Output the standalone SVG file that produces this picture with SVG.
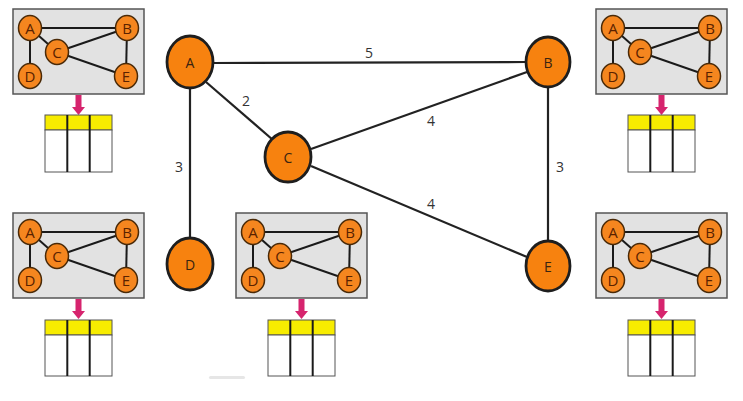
<svg xmlns="http://www.w3.org/2000/svg" width="743" height="401" viewBox="0 0 743 401">
<style>
.bg{fill:#ffffff}
.edge{stroke:#222;stroke-width:2.2;fill:none}
.node{fill:#f7820f;stroke:#1e1e1e;stroke-width:2.8}
.nl{font-family:"Open Sans","Noto Sans",sans-serif;font-size:14px;fill:#3a2410;text-anchor:middle;dominant-baseline:central}
.wl{font-family:"Open Sans","Noto Sans",sans-serif;font-size:14px;fill:#333;text-anchor:middle;dominant-baseline:central}
.tb{fill:#e2e2e2;stroke:#555;stroke-width:1.5}
.te{stroke:#1a1a1a;stroke-width:2;fill:none}
.tn{fill:#f5861f;stroke:#4a2a08;stroke-width:1.5}
.tl{font-family:"Open Sans","Noto Sans",sans-serif;font-size:15px;fill:#5a2200;text-anchor:middle;dominant-baseline:central}
.arr{fill:#d6246e}
.hdr{fill:#f7ec00;stroke:#555;stroke-width:1}
.cell{fill:#fff;stroke:#555;stroke-width:1}
.col{stroke:#1a1a1a;stroke-width:2}
</style>
<rect class="bg" x="0" y="0" width="743" height="401"/>

<g id="connectors">
<line class="edge" x1="213" y1="63" x2="526" y2="62"/>
<line class="edge" x1="206" y1="82" x2="273" y2="140"/>
<line class="edge" x1="190" y1="89" x2="190" y2="238"/>
<line class="edge" x1="311" y1="149" x2="527" y2="72"/>
<line class="edge" x1="311" y1="166" x2="527" y2="257"/>
<line class="edge" x1="548" y1="88" x2="548" y2="240"/>
</g>
<g id="weights">
<text class="wl" x="369" y="52">5</text>
<text class="wl" x="246" y="100">2</text>
<text class="wl" x="431" y="120">4</text>
<text class="wl" x="179" y="166">3</text>
<text class="wl" x="560" y="166">3</text>
<text class="wl" x="431" y="203">4</text>
</g>
<g id="A"><ellipse class="node" cx="190" cy="62" rx="23" ry="26"/><text class="nl" x="190" y="62">A</text></g>
<g id="B"><ellipse class="node" cx="548" cy="62" rx="22" ry="25"/><text class="nl" x="548" y="62">B</text></g>
<g id="C"><ellipse class="node" cx="288" cy="157" rx="23" ry="25"/><text class="nl" x="288" y="157">C</text></g>
<g id="D"><ellipse class="node" cx="190" cy="264" rx="23" ry="26"/><text class="nl" x="190" y="264">D</text></g>
<g id="E"><ellipse class="node" cx="548" cy="266" rx="22" ry="25"/><text class="nl" x="548" y="266">E</text></g>

<g id="thumb-tl" transform="translate(13,9)">
<rect class="tb" x="0" y="0" width="131" height="85"/>
<line class="te" x1="17" y1="19" x2="114" y2="19"/><line class="te" x1="17" y1="19" x2="44" y2="43"/><line class="te" x1="17" y1="19" x2="17" y2="67"/><line class="te" x1="44" y1="43" x2="114" y2="19"/><line class="te" x1="44" y1="43" x2="113" y2="67"/><line class="te" x1="114" y1="19" x2="113" y2="67"/>
<ellipse class="tn" cx="17" cy="19" rx="11.5" ry="12.5"/><text class="tl" x="17" y="19">A</text>
<ellipse class="tn" cx="114" cy="19" rx="11.5" ry="12.5"/><text class="tl" x="114" y="19">B</text>
<ellipse class="tn" cx="44" cy="43" rx="11.5" ry="12.5"/><text class="tl" x="44" y="43">C</text>
<ellipse class="tn" cx="17" cy="67" rx="11.5" ry="12.5"/><text class="tl" x="17" y="67">D</text>
<ellipse class="tn" cx="113" cy="67" rx="11.5" ry="12.5"/><text class="tl" x="113" y="67">E</text>
<polygon class="arr" points="62.5,86 68.5,86 68.5,98 72,98 65.5,106 59,98 62.5,98"/>
<rect class="hdr" x="32" y="106" width="67" height="15"/><rect class="cell" x="32" y="121" width="67" height="42"/>
<line class="col" x1="54.3" y1="106" x2="54.3" y2="163"/><line class="col" x1="76.7" y1="106" x2="76.7" y2="163"/>
</g>

<g id="thumb-tr" transform="translate(596,9)">
<rect class="tb" x="0" y="0" width="131" height="85"/>
<line class="te" x1="17" y1="19" x2="114" y2="19"/><line class="te" x1="17" y1="19" x2="44" y2="43"/><line class="te" x1="17" y1="19" x2="17" y2="67"/><line class="te" x1="44" y1="43" x2="114" y2="19"/><line class="te" x1="44" y1="43" x2="113" y2="67"/><line class="te" x1="114" y1="19" x2="113" y2="67"/>
<ellipse class="tn" cx="17" cy="19" rx="11.5" ry="12.5"/><text class="tl" x="17" y="19">A</text>
<ellipse class="tn" cx="114" cy="19" rx="11.5" ry="12.5"/><text class="tl" x="114" y="19">B</text>
<ellipse class="tn" cx="44" cy="43" rx="11.5" ry="12.5"/><text class="tl" x="44" y="43">C</text>
<ellipse class="tn" cx="17" cy="67" rx="11.5" ry="12.5"/><text class="tl" x="17" y="67">D</text>
<ellipse class="tn" cx="113" cy="67" rx="11.5" ry="12.5"/><text class="tl" x="113" y="67">E</text>
<polygon class="arr" points="62.5,86 68.5,86 68.5,98 72,98 65.5,106 59,98 62.5,98"/>
<rect class="hdr" x="32" y="106" width="67" height="15"/><rect class="cell" x="32" y="121" width="67" height="42"/>
<line class="col" x1="54.3" y1="106" x2="54.3" y2="163"/><line class="col" x1="76.7" y1="106" x2="76.7" y2="163"/>
</g>

<g id="thumb-bl" transform="translate(13,213)">
<rect class="tb" x="0" y="0" width="131" height="85"/>
<line class="te" x1="17" y1="19" x2="114" y2="19"/><line class="te" x1="17" y1="19" x2="44" y2="43"/><line class="te" x1="17" y1="19" x2="17" y2="67"/><line class="te" x1="44" y1="43" x2="114" y2="19"/><line class="te" x1="44" y1="43" x2="113" y2="67"/><line class="te" x1="114" y1="19" x2="113" y2="67"/>
<ellipse class="tn" cx="17" cy="19" rx="11.5" ry="12.5"/><text class="tl" x="17" y="19">A</text>
<ellipse class="tn" cx="114" cy="19" rx="11.5" ry="12.5"/><text class="tl" x="114" y="19">B</text>
<ellipse class="tn" cx="44" cy="43" rx="11.5" ry="12.5"/><text class="tl" x="44" y="43">C</text>
<ellipse class="tn" cx="17" cy="67" rx="11.5" ry="12.5"/><text class="tl" x="17" y="67">D</text>
<ellipse class="tn" cx="113" cy="67" rx="11.5" ry="12.5"/><text class="tl" x="113" y="67">E</text>
<polygon class="arr" points="62.5,86 68.5,86 68.5,98 72,98 65.5,106 59,98 62.5,98"/>
<rect class="hdr" x="32" y="107" width="67" height="15"/><rect class="cell" x="32" y="122" width="67" height="41"/>
<line class="col" x1="54.3" y1="107" x2="54.3" y2="163"/><line class="col" x1="76.7" y1="107" x2="76.7" y2="163"/>
</g>

<g id="thumb-bm" transform="translate(236,213)">
<rect class="tb" x="0" y="0" width="131" height="85"/>
<line class="te" x1="17" y1="19" x2="114" y2="19"/><line class="te" x1="17" y1="19" x2="44" y2="43"/><line class="te" x1="17" y1="19" x2="17" y2="67"/><line class="te" x1="44" y1="43" x2="114" y2="19"/><line class="te" x1="44" y1="43" x2="113" y2="67"/><line class="te" x1="114" y1="19" x2="113" y2="67"/>
<ellipse class="tn" cx="17" cy="19" rx="11.5" ry="12.5"/><text class="tl" x="17" y="19">A</text>
<ellipse class="tn" cx="114" cy="19" rx="11.5" ry="12.5"/><text class="tl" x="114" y="19">B</text>
<ellipse class="tn" cx="44" cy="43" rx="11.5" ry="12.5"/><text class="tl" x="44" y="43">C</text>
<ellipse class="tn" cx="17" cy="67" rx="11.5" ry="12.5"/><text class="tl" x="17" y="67">D</text>
<ellipse class="tn" cx="113" cy="67" rx="11.5" ry="12.5"/><text class="tl" x="113" y="67">E</text>
<polygon class="arr" points="62.5,86 68.5,86 68.5,98 72,98 65.5,106 59,98 62.5,98"/>
<rect class="hdr" x="32" y="107" width="67" height="15"/><rect class="cell" x="32" y="122" width="67" height="41"/>
<line class="col" x1="54.3" y1="107" x2="54.3" y2="163"/><line class="col" x1="76.7" y1="107" x2="76.7" y2="163"/>
</g>

<g id="thumb-br" transform="translate(596,213)">
<rect class="tb" x="0" y="0" width="131" height="85"/>
<line class="te" x1="17" y1="19" x2="114" y2="19"/><line class="te" x1="17" y1="19" x2="44" y2="43"/><line class="te" x1="17" y1="19" x2="17" y2="67"/><line class="te" x1="44" y1="43" x2="114" y2="19"/><line class="te" x1="44" y1="43" x2="113" y2="67"/><line class="te" x1="114" y1="19" x2="113" y2="67"/>
<ellipse class="tn" cx="17" cy="19" rx="11.5" ry="12.5"/><text class="tl" x="17" y="19">A</text>
<ellipse class="tn" cx="114" cy="19" rx="11.5" ry="12.5"/><text class="tl" x="114" y="19">B</text>
<ellipse class="tn" cx="44" cy="43" rx="11.5" ry="12.5"/><text class="tl" x="44" y="43">C</text>
<ellipse class="tn" cx="17" cy="67" rx="11.5" ry="12.5"/><text class="tl" x="17" y="67">D</text>
<ellipse class="tn" cx="113" cy="67" rx="11.5" ry="12.5"/><text class="tl" x="113" y="67">E</text>
<polygon class="arr" points="62.5,86 68.5,86 68.5,98 72,98 65.5,106 59,98 62.5,98"/>
<rect class="hdr" x="32" y="107" width="67" height="15"/><rect class="cell" x="32" y="122" width="67" height="41"/>
<line class="col" x1="54.3" y1="107" x2="54.3" y2="163"/><line class="col" x1="76.7" y1="107" x2="76.7" y2="163"/>
</g>

<rect x="209" y="376" width="36" height="3" rx="1.5" fill="#e6e6e6"/>
</svg>
